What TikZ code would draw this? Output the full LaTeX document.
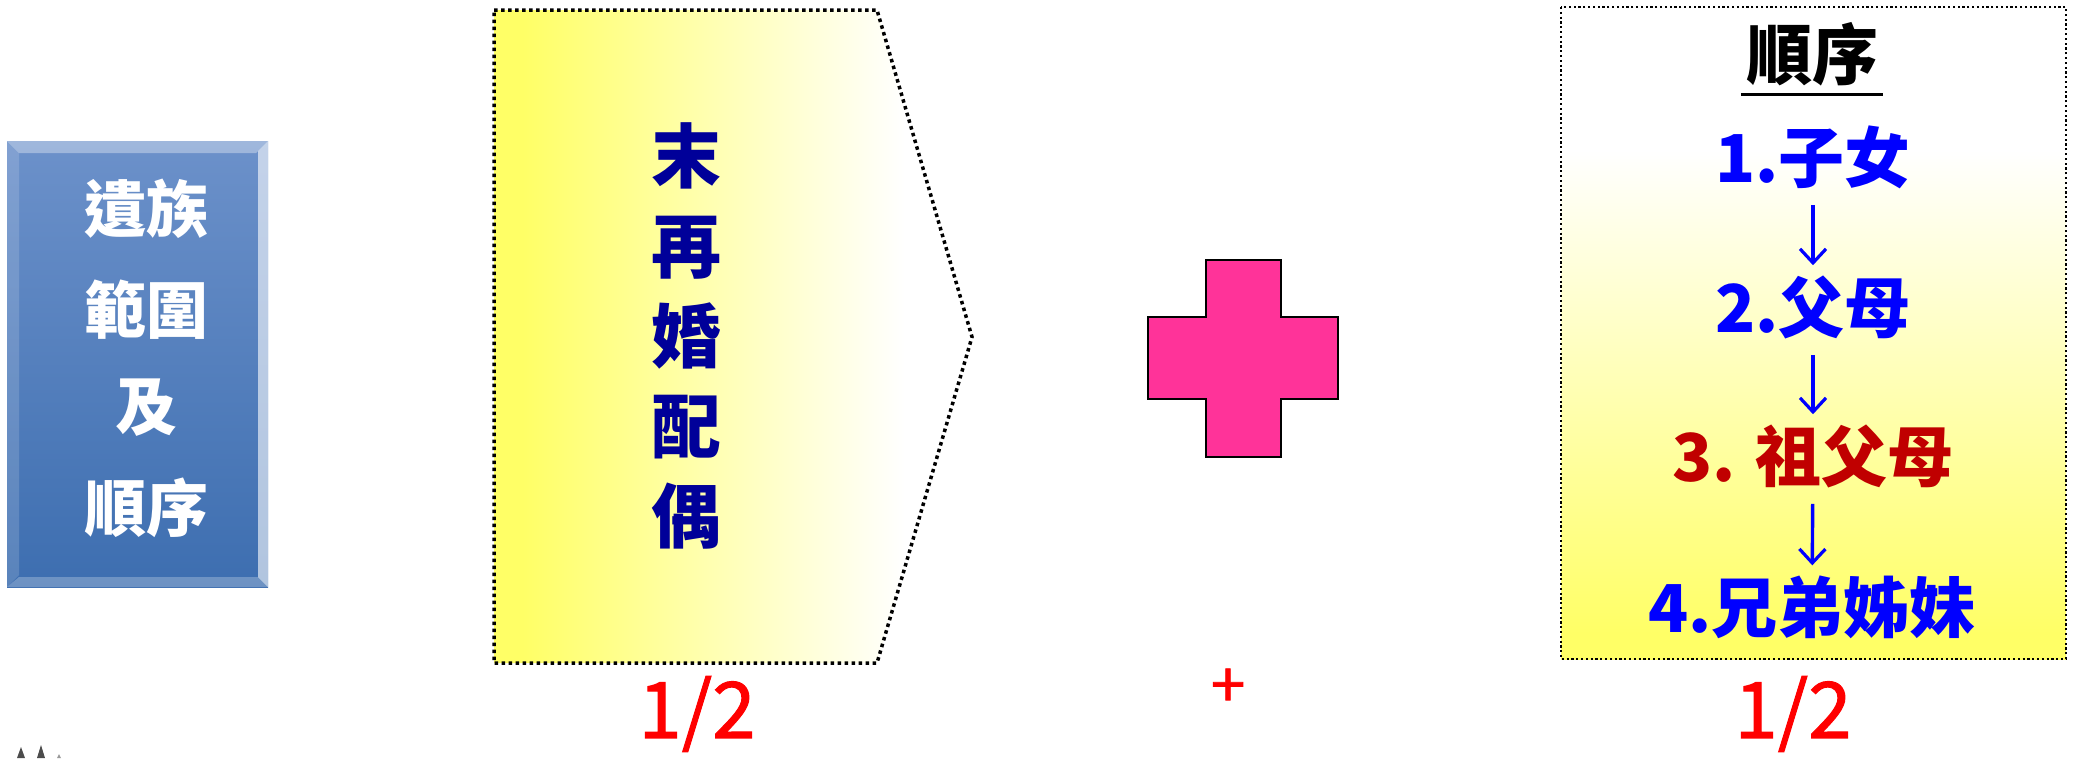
\documentclass[tikz,border=0pt]{standalone}
\usepackage{fontspec}
\usetikzlibrary{arrows.meta,calc}
\newfontfamily\cjk{Noto Sans CJK TC}
\newfontfamily\cjkmed[FakeBold=1.3]{Noto Sans CJK TC}
\definecolor{yel}{HTML}{FFFF66}
\definecolor{navytxt}{HTML}{000099}
\definecolor{dred}{HTML}{C00000}
\definecolor{pinkfill}{HTML}{FF3399}
\definecolor{bluetop}{HTML}{6C91CA}
\definecolor{bluebot}{HTML}{3D6EB0}
\pgfdeclarehorizontalshading{penta}{100bp}{color(0bp)=(yel); color(28bp)=(yel); color(68bp)=(white); color(100bp)=(white)}
\pgfdeclareverticalshading{rboxsh}{100bp}{color(0bp)=(yel); color(27bp)=(yel); color(64bp)=(white); color(100bp)=(white)}
\tikzset{
  whitetxt/.style={font=\cjk\bfseries\fontsize{62}{70}\selectfont, text=white, inner sep=0pt},
  navytext/.style={font=\cjk\bfseries\fontsize{70}{90}\selectfont, text=navytxt, align=center, inner sep=0pt},
  ordtxt/.style={font=\cjk\bfseries\fontsize{66}{70}\selectfont, inner sep=0pt},
  halftxt/.style={font=\cjkmed\fontsize{78}{80}\selectfont, text=red, inner sep=0pt},
  ordarrow/.style={blue, line width=3.4pt, -{Straight Barb[length=14pt,width=26pt,line width=3.2pt]}, shorten <=16pt, shorten >=10pt},
}
\begin{document}
\begin{tikzpicture}[x=1pt,y=-1pt]
\useasboundingbox (0,0) rectangle (2074,758);
% left blue bevel box
\shade[top color=bluetop, bottom color=bluebot] (7,141) rectangle (268,587);
\fill[white, opacity=0.35] (7,141) -- (268,141) -- (256,153) -- (19,153) -- cycle;
\fill[white, opacity=0.15] (7,141) -- (19,153) -- (19,575) -- (7,587) -- cycle;
\fill[white, opacity=0.6] (268,141) -- (268,587) -- (258,577) -- (258,151) -- cycle;
\fill[white, opacity=0.25] (7,587) -- (268,587) -- (258,577) -- (19,577) -- cycle;
\node[whitetxt] (l1) at (146,209) {遺族};
\node[whitetxt] (l2) at (146,310) {範圍};
\node[whitetxt] (l3) at (146,408) {及};
\node[whitetxt] (l4) at (146,508) {順序};
% pentagon
\path[shading=penta] (494,10) -- (877,10) -- (972,337) -- (877,663) -- (494,663) -- cycle;
\draw[line width=3.5pt, dash pattern=on 3.5pt off 3.5pt] (494,10) -- (877,10) -- (972,337) -- (877,663) -- (494,663) -- cycle;
\node[navytext] (spouse) at (686,336) {末\\再\\婚\\配\\偶};
\node[halftxt] (half1) at (697,714) {1/2};
% plus
\draw[fill=pinkfill, line width=1.5pt] (1206,260) -- (1281,260) -- (1281,317) -- (1338,317) -- (1338,399) -- (1281,399) -- (1281,457) -- (1206,457) -- (1206,399) -- (1148,399) -- (1148,317) -- (1206,317) -- cycle;
\node[font=\cjkmed\fontsize{62}{64}\selectfont, text=red, inner sep=0pt] (smallplus) at (1228,688) {+};
% right box
\path[shading=rboxsh] (1561,7) rectangle (2066,659);
\draw[line width=2.2pt, dash pattern=on 2.2pt off 2.6pt] (1561,7) rectangle (2066,659);
\node[ordtxt, text=black, inner sep=5pt] (title) at (1812,54) {順序};
\coordinate (ul) at (0,94);
\draw[line width=3pt] (title.west |- ul) -- (title.east |- ul);
\node[ordtxt, text=blue] (o1) at (1813,157) {1.子女};
\node[ordtxt, text=blue] (o2) at (1813,307) {2.父母};
\node[ordtxt, text=dred] (o3) at (1813,456) {3. 祖父母};
\node[ordtxt, text=blue] (o4) at (1812,607) {4.兄弟姊妹};
\draw[ordarrow] (o1) -- (o2);
\draw[ordarrow] (o2) -- (o3);
\draw[ordarrow] (o3) -- (o4);
\node[halftxt] (half2) at (1793,714) {1/2};
% cut-off marks at bottom left
\fill[black!70] (17,758) -- (21,747) -- (25,758) -- cycle;
\fill[black!70] (37,758) -- (41,745) -- (45,758) -- cycle;
\fill[black!40] (57,758) -- (59,754) -- (61,758) -- cycle;
\end{tikzpicture}
\end{document}
